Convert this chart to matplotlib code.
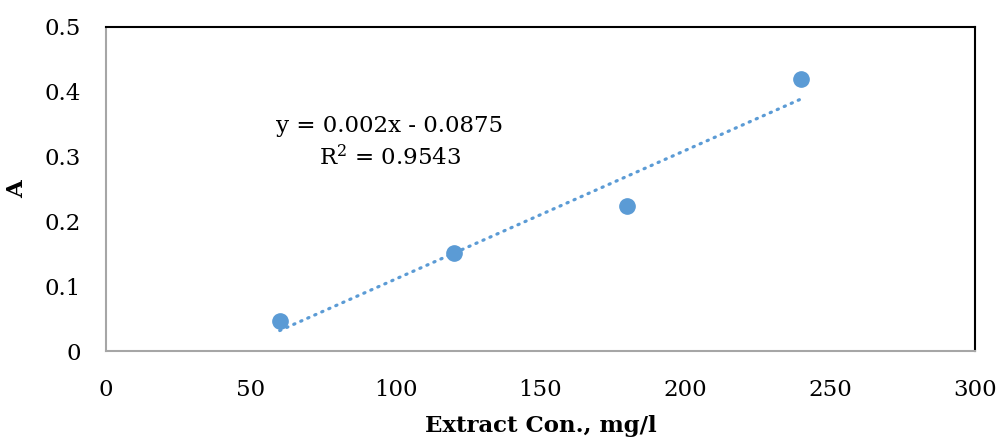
import numpy as np
import matplotlib.pyplot as plt

conc = [60, 120, 180, 240]
absorb = [0.047, 0.151, 0.223, 0.420]
eq_text = "y = 0.002x - 0.0875\nR$^2$ = 0.9543"

plt.rcParams['font.family'] = ['DejaVu Serif']
plt.rcParams['mathtext.fontset'] = 'dejavuserif'

fig = plt.figure(figsize=(9.99, 4.41), dpi=100)
ax = fig.add_axes([0.106, 0.204, 0.870, 0.735])

# linear trendline
k, b = np.polyfit(conc, absorb, 1)
xs = np.array([conc[0], conc[-1]])
ax.plot(xs, k * xs + b, color='#5B9BD5', lw=2.3, linestyle=(0, (0.4, 2.0)),
        dash_capstyle='round', zorder=2)
ax.plot(conc, absorb, 'o', color='#5B9BD5', ms=11, zorder=3)

ax.set_xlim(0, 300)
ax.set_ylim(0, 0.5)
ax.set_xticks(range(0, 301, 50))
ax.set_yticks([0, 0.1, 0.2, 0.3, 0.4, 0.5])
ax.set_yticklabels(['0', '0.1', '0.2', '0.3', '0.4', '0.5'])
ax.tick_params(length=0, labelsize=16.5)
ax.tick_params(axis='x', pad=20)
ax.tick_params(axis='y', pad=18)

for s in ['top', 'right']:
    ax.spines[s].set_color('black')
    ax.spines[s].set_linewidth(1.5)
for s in ['left', 'bottom']:
    ax.spines[s].set_color('#A6A6A6')
    ax.spines[s].set_linewidth(1.5)

ax.set_xlabel("Extract Con., mg/l", fontsize=16.5, fontweight='bold', labelpad=10)
ax.set_ylabel("A", fontsize=16.5, fontweight='bold', labelpad=12)

ax.text(98, 0.321, eq_text, fontsize=16.5, ha='center', va='center', linespacing=1.4)

fig.savefig("out.png", dpi=100)
